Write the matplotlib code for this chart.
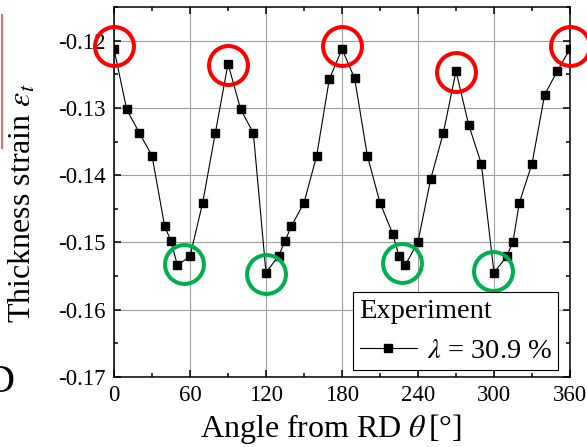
import matplotlib
matplotlib.use('Agg')
import matplotlib.pyplot as plt
from matplotlib.lines import Line2D
from matplotlib.ticker import MultipleLocator, FormatStrFormatter

plt.rcParams['font.family'] = 'Liberation Serif'
plt.rcParams['mathtext.fontset'] = 'stix'
plt.rcParams['axes.unicode_minus'] = False

# measured thickness strain vs angle from RD
angles = [0, 10, 20, 30, 40, 45, 50, 60, 70, 80, 90, 100, 110, 120, 130, 135, 140, 150, 160, 170, 180,
          190, 200, 210, 220, 225, 230, 240, 250, 260, 270, 280, 290, 300, 310, 315, 320, 330, 340, 350, 360]
strain = [-0.1212, -0.1302, -0.1337, -0.1371, -0.1476, -0.1498, -0.1534, -0.1521, -0.1441, -0.1337, -0.1234,
          -0.1302, -0.1337, -0.1545, -0.1520, -0.1498, -0.1476, -0.1441, -0.1371, -0.1257, -0.1212,
          -0.1256, -0.1371, -0.1441, -0.1487, -0.1521, -0.1534, -0.1499, -0.1406, -0.1337, -0.1245,
          -0.1325, -0.1383, -0.1545, -0.1521, -0.1499, -0.1441, -0.1383, -0.1280, -0.1245, -0.1212]

# highlighted maxima (red) and minima (green)
peak_x = [0, 90, 180, 270, 360]
peak_y = [-0.1208, -0.1236, -0.1208, -0.1247, -0.1208]
valley_x = [55, 120, 227, 299]
valley_y = [-0.1532, -0.1547, -0.1530, -0.1542]

fig = plt.figure(figsize=(5.87, 4.47), dpi=100)
ax = fig.add_axes([114/587, 1-376.7/447, 456/587, 369.4/447])

ax.plot(angles, strain, color='black', lw=0.8, marker='s', ms=6, label=r'$\lambda$ = 30.9 %', zorder=3)
ax.plot(peak_x, peak_y, ls='none', marker='o', ms=28, mfc='none', mec='#ff0000', mew=2.9, clip_on=False, zorder=4)
ax.plot(valley_x, valley_y, ls='none', marker='o', ms=28, mfc='none', mec='#00b050', mew=2.9, clip_on=False, zorder=4)

ax.set_xlim(0, 360)
ax.set_ylim(-0.17, -0.115)
ax.xaxis.set_major_locator(MultipleLocator(60))
ax.xaxis.set_minor_locator(MultipleLocator(30))
ax.yaxis.set_major_locator(MultipleLocator(0.01))
ax.yaxis.set_minor_locator(MultipleLocator(0.005))
ax.yaxis.set_major_formatter(FormatStrFormatter('%.2f'))
ax.grid(True, which='major', color='#a0a0a0', lw=0.8)
ax.set_axisbelow(True)
ax.tick_params(which='both', direction='in', top=True, right=True, width=1.1, labelsize=16.5)
ax.tick_params(which='major', length=5)
ax.tick_params(which='minor', length=3)
ax.tick_params(axis='x', pad=6)
ax.tick_params(axis='y', pad=6)
for s in ax.spines.values():
    s.set_linewidth(1.1)

ax.set_xlabel(r'Angle from RD $\theta\,$[°]', fontsize=23)
ax.xaxis.set_label_coords(0.4755, -0.095)
ax.set_ylabel(r'Thickness strain $\varepsilon_t$', fontsize=23)
ax.yaxis.set_label_coords(-0.167, 0.47)

leg = ax.legend(title='Experiment', loc='lower right', bbox_to_anchor=(0.9743, 0.018), borderaxespad=0,
                fontsize=20.5, title_fontsize=20.5, numpoints=1, handlelength=2.0, handletextpad=0.35,
                borderpad=0.22, labelspacing=0.5, fancybox=False, edgecolor='black', framealpha=1,
                alignment='left')
leg.get_frame().set_linewidth(0.8)

# cropped bits at the left edge of the original figure
fig.add_artist(Line2D([1.5/587, 1.5/587], [1-15/447, 1-148/447], color='#e07070', lw=1.5))
fig.text(15/587, 1-382/447, 'D', ha='right', va='center', fontsize=29)

fig.savefig('out.png', dpi=100)
